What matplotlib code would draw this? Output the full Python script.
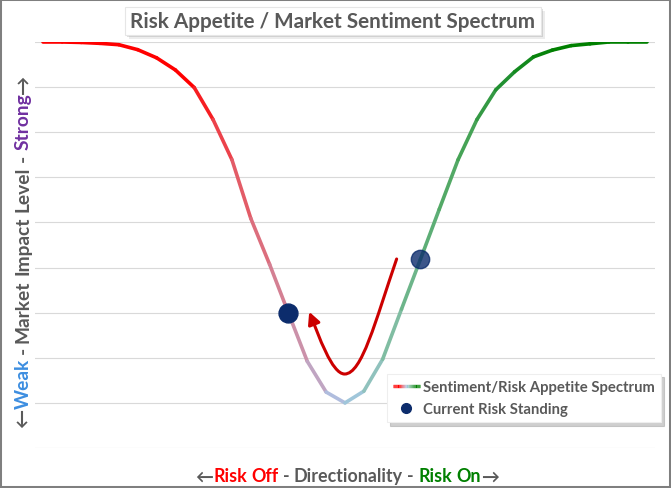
import re
import numpy as np
import matplotlib
matplotlib.use('Agg')
import matplotlib.pyplot as plt
from matplotlib.collections import LineCollection
from matplotlib.colors import LinearSegmentedColormap
from matplotlib.patches import Rectangle, FancyArrowPatch
from matplotlib.path import Path
from matplotlib.legend_handler import HandlerBase
from matplotlib.lines import Line2D
from matplotlib.font_manager import FontProperties

W, H = 671, 489

# market impact level along the risk-off -> risk-on axis
impact = [9.00, 9.00, 8.99, 8.97, 8.94, 8.83, 8.65, 8.38, 7.99, 7.28, 6.39,
          5.09, 4.07, 2.99, 1.92, 1.24, 1.00, 1.26, 1.97, 3.08, 4.18, 5.29,
          6.39, 7.28, 7.94, 8.34, 8.67, 8.82, 8.92, 8.96, 9.00, 9.00, 9.00]
positions = list(range(len(impact)))
standing = [13, 20]

# red "move" arrow (bezier through the trough)
arrow_x = [18.74, 17.6, 16.9, 15.98, 15.3, 14.6, 14.10]
arrow_y = [4.19, 2.8, 1.64, 1.64, 1.64, 2.5, 3.02]

title = 'Risk Appetite / Market Sentiment Spectrum'
legend_labels = ['Sentiment/Risk Appetite Spectrum', 'Current Risk Standing']

GRAY = '#595959'
xlabel_parts = [('\u2190', GRAY), ('Risk Off', '#ff0000'), (' - Directionality - ', GRAY),
                ('Risk On', '#008000'), ('\u2192', GRAY)]
ylabel_parts = [('\u2190', GRAY), ('Weak', '#3d8ee0'), (' - Market Impact Level - ', GRAY),
                ('Strong', '#7030a0'), ('\u2192', GRAY)]

stops = [(0.0, '#ff0000'), (0.24, '#ff0000'), (0.31, '#e8505a'), (0.38, '#d77a8a'),
         (0.44, '#c79ab5'), (0.5, '#a9c8ea'), (0.57, '#86c0aa'), (0.63, '#62b07c'),
         (0.7, '#4aa55a'), (0.78, '#1a8c2a'), (0.85, '#008000'), (1.0, '#008000')]
cmap = LinearSegmentedColormap.from_list('spectrum', stops)

FONT = ['Lato', 'DejaVu Sans']
NAVY = '#0c2c6c'


def fx(x):
    return x / W


def fy(y):
    return 1 - y / H


fig = plt.figure(figsize=(W / 100, H / 100), dpi=100)
ax = fig.add_axes([fx(35), fy(449), 620 / W, 406 / H])

pts = np.column_stack([positions, impact])
segs = np.stack([pts[:-1], pts[1:]], axis=1)
mids = (np.arange(len(segs)) + 0.5) / len(segs)
lc = LineCollection(segs, colors=cmap(mids), linewidths=2.6, capstyle='round',
                    joinstyle='round', zorder=3)
ax.add_collection(lc)

ax.scatter([positions[standing[0]]], [impact[standing[0]]], s=185, c=NAVY, zorder=5)
ax.scatter([positions[standing[1]]], [impact[standing[1]]], s=175, c=NAVY, alpha=0.8, zorder=5)

codes = [Path.MOVETO] + [Path.CURVE4] * 6
arrow = FancyArrowPatch(path=Path(list(zip(arrow_x, arrow_y)), codes),
                        arrowstyle='-|>,head_length=0.9,head_width=0.45', mutation_scale=8,
                        color='#cc0000', lw=2.2, transform=ax.transData, zorder=4)
ax.add_patch(arrow)

ax.set_xlim(-0.45, 32.45)
ax.set_ylim(0, 9)
ax.set_yticks(range(10))
ax.set_xticks([])
ax.grid(axis='y', color='#d9d9d9', lw=0.8)
ax.set_axisbelow(True)
ax.tick_params(left=False, labelleft=False)
for s in ax.spines.values():
    s.set_visible(False)

renderer = fig.canvas.get_renderer()


def text_width(s, size):
    w, h, d = renderer.get_text_width_height_descent(
        s, FontProperties(family=FONT, weight='bold', size=size), ismath=False)
    return w


def fit_size(s, target):
    return 12 * target / text_width(s, 12)


def colored_text(parts, cx, cy, length, rotation=0):
    full = ''.join(s for s, c in parts)
    size = fit_size(full, length)
    total = text_width(full, size)
    base = text_width('x', size)
    shift = 0.36 * size * 100 / 72
    start = 0
    for s, c in parts:
        for m in re.finditer(r'\S+', s):
            pos = start + m.start()
            off = text_width(full[:pos] + 'x', size) - base if pos > 0 else 0
            kw = dict(color=c, family=FONT, weight='bold', fontsize=size,
                      ha='left', va='baseline')
            if rotation:
                fig.text(fx(cx + shift), fy(cy + total / 2 - off), m.group(), rotation=90,
                         rotation_mode='anchor', **kw)
            else:
                fig.text(fx(cx - total / 2 + off), fy(cy + shift), m.group(), **kw)
        start += len(s)


colored_text(xlabel_parts, 347, 476, 300)
colored_text(ylabel_parts, 22, 251.5, 353, rotation=90)

# title box with soft shadow
for off, a in [(4, 0.15), (2, 0.25)]:
    fig.add_artist(Rectangle((fx(125 + off), fy(36 + off)), 416 / W, 28 / H,
                             transform=fig.transFigure, fc='#808080', ec='none', alpha=a))
fig.add_artist(Rectangle((fx(125), fy(36)), 416 / W, 28 / H, transform=fig.transFigure,
                         fc='white', ec='#e6e6e6', lw=0.8))
fig.text(fx(333), fy(22), title, ha='center', va='center', color=GRAY, family=FONT,
         weight='bold', fontsize=fit_size(title, 405))


class GradientLine:
    pass


class HandlerGradient(HandlerBase):
    def create_artists(self, legend, orig_handle, xdescent, ydescent, width, height,
                       fontsize, trans):
        n = 24
        edges = np.linspace(-xdescent, width - xdescent, n + 1)
        yc = height / 2 - ydescent
        pieces = [[(edges[k], yc), (edges[k + 1], yc)] for k in range(n)]
        return [LineCollection(pieces, colors=cmap(np.linspace(0, 1, n)), linewidths=2.4,
                               transform=trans)]


leg_fs = fit_size(legend_labels[0], 231)
em = leg_fs * 100 / 72
dot_handle = Line2D([], [], ls='none', marker='o', ms=7, color=NAVY)
leg = fig.legend([GradientLine(), dot_handle], legend_labels,
                 handler_map={GradientLine: HandlerGradient()},
                 loc='upper left', bbox_to_anchor=(fx(387), fy(375)),
                 bbox_transform=fig.transFigure, borderaxespad=0,
                 prop=FontProperties(family=FONT, weight='bold', size=leg_fs),
                 handlelength=27 / em, handletextpad=3 / em, borderpad=0.4,
                 labelspacing=0.55, fancybox=False, framealpha=1,
                 shadow={'ox': 2.5, 'oy': -2.5, 'color': '#a0a0a0', 'alpha': 0.5})
for t in leg.get_texts():
    t.set_color(GRAY)
leg.get_frame().set_edgecolor('#eeeeee')
leg.get_frame().set_linewidth(0.8)

fig.add_artist(Rectangle((0, 0), 1, 1, transform=fig.transFigure, fill=False,
                         ec='#7f7f7f', lw=2.9))

fig.savefig('out.png', dpi=100)
